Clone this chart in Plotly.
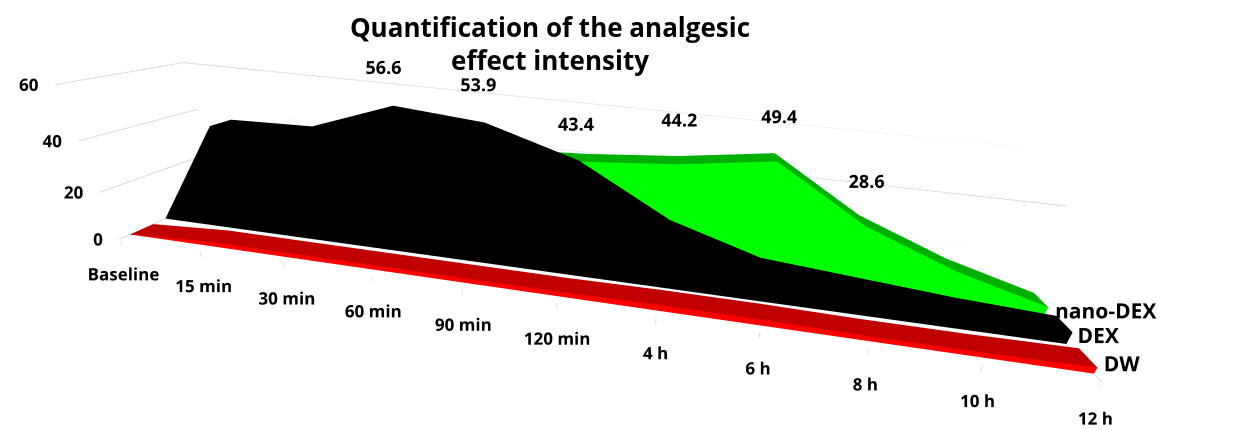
import plotly.graph_objects as go

categories = ["Baseline", "15 min", "30 min", "60 min", "90 min", "120 min",
              "4 h", "6 h", "8 h", "10 h", "12 h"]
series_names = ["DW", "DEX", "nano-DEX"]
dw = [0, 2, 2, 2, 2, 2, 2.5, 2.5, 2, 2, 2.5]
dex = [0, 44, 45, 56.6, 53.9, 43.4, 24, 13, 10, 7, 5]
nano_dex = [0, 18, 28, 35, 39, 41, 44.2, 49.4, 28.6, 15, 5]
label_dex = ["", "", "", "56.6", "53.9", "43.4", "", "", "", "", ""]
label_nano = ["", "", "", "", "", "", "44.2", "49.4", "28.6", "", ""]
value_ticks = [0, 20, 40, 60]

front_colors = ["#ff0000", "#000000", "#00ff00"]
top_colors = ["#c00000", "#000000", "#00b000"]
values = [dw, dex, nano_dex]
labels = [None, label_dex, label_nano]
half = 0.32
y_front, y_back = -0.6, 2.6
z_lo, z_hi = -6, 70
x_max = len(categories) - 1
FONT = "Open Sans"
W, H = 1260, 430

fig = go.Figure()


def ribbon(vals, row, fcol, tcol, name):
    xs, ys, zs = [], [], []
    y0, y1 = row - half, row + half
    for i, v in enumerate(vals):
        xs += [i, i, i, i]
        ys += [y0, y0, y1, y1]
        zs += [0, v, 0, v]
    I, J, K, C = [], [], [], []
    n = len(vals)
    for i in range(n - 1):
        a, b, c, d = 4 * i, 4 * i + 1, 4 * i + 2, 4 * i + 3
        a2, b2, c2, d2 = a + 4, b + 4, c + 4, d + 4
        I += [a, a]; J += [a2, b2]; K += [b2, b]; C += [fcol, fcol]   # front
        I += [c, c]; J += [c2, d2]; K += [d2, d]; C += [fcol, fcol]   # back
        I += [b, b]; J += [b2, d2]; K += [d2, d]; C += [tcol, tcol]   # top
    for i in (0, n - 1):
        a, b, c, d = 4 * i, 4 * i + 1, 4 * i + 2, 4 * i + 3
        I += [a, a]; J += [b, d]; K += [d, c]; C += [tcol, tcol]
    fig.add_trace(go.Mesh3d(
        x=xs, y=ys, z=zs, i=I, j=J, k=K, facecolor=C, flatshading=True,
        lighting=dict(ambient=1, diffuse=0, specular=0, roughness=1, fresnel=0),
        hoverinfo="skip", showscale=False, name=name))


# gridlines on the left wall and back wall
gx, gy, gz = [], [], []
for v in value_ticks:
    gx += [0, 0, x_max, None]; gy += [y_front, y_back, y_back, None]; gz += [v, v, v, None]
fig.add_trace(go.Scatter3d(x=gx, y=gy, z=gz, mode="lines",
                           line=dict(color="#d9d9d9", width=2),
                           hoverinfo="skip", showlegend=False))

# floor front / right edges with category tick marks
ex_, ey_, ez_ = [0, x_max, x_max], [y_front, y_front, y_back], [0, 0, 0]
for i in range(len(categories)):
    ex_ += [None, i, i]; ey_ += [None, y_front, y_front]; ez_ += [None, 0, -2.5]
fig.add_trace(go.Scatter3d(x=ex_, y=ey_, z=ez_, mode="lines",
                           line=dict(color="#d9d9d9", width=2),
                           hoverinfo="skip", showlegend=False))

for r, (vals, fc, tc, nm) in enumerate(zip(values, front_colors, top_colors, series_names)):
    ribbon(vals, r, fc, tc, nm)

# data labels
for r, lab in enumerate(labels):
    if lab is None:
        continue
    xs = [i for i, t in enumerate(lab) if t]
    zs = [values[r][i] + 6 for i in xs]
    fig.add_trace(go.Scatter3d(
        x=xs, y=[r] * len(xs), z=zs, mode="text",
        text=[lab[i] for i in xs],
        textfont=dict(family=FONT, size=18, color="black", weight="bold"),
        hoverinfo="skip", showlegend=False))

# category axis labels
fig.add_trace(go.Scatter3d(
    x=list(range(len(categories))), y=[y_front] * len(categories),
    z=[-5] * len(categories), mode="text", text=categories,
    textposition="bottom center",
    textfont=dict(family=FONT, size=17, color="black", weight="bold"),
    hoverinfo="skip", showlegend=False))

# value axis labels
fig.add_trace(go.Scatter3d(
    x=[0] * len(value_ticks), y=[y_front] * len(value_ticks), z=value_ticks,
    mode="text", text=[str(v) for v in value_ticks], textposition="middle left",
    textfont=dict(family=FONT, size=17, color="black", weight="bold"),
    hoverinfo="skip", showlegend=False))

# series axis labels
fig.add_trace(go.Scatter3d(
    x=[x_max] * 3, y=[0, 1, 2], z=[0, 0, 0], mode="text",
    text=series_names, textposition="middle right",
    textfont=dict(family=FONT, size=21, color="black", weight="bold"),
    hoverinfo="skip", showlegend=False))

hidden = dict(title="", showticklabels=False, showgrid=False, showline=False,
              showbackground=False, zeroline=False, showspikes=False, ticks="")
fig.update_layout(
    width=W, height=H,
    margin=dict(l=0, r=0, t=0, b=0),
    paper_bgcolor="white",
    showlegend=False,
    title=dict(text="<b>Quantification of the analgesic<br>effect intensity</b>",
               x=550 / W, xanchor="center", y=0.915, yanchor="top",
               font=dict(family=FONT, size=26, color="black")),
    scene=dict(
        domain=dict(x=[0, 1], y=[0, 1]),
        aspectmode="manual",
        aspectratio=dict(x=3.2, y=0.4294, z=0.6891),
        xaxis=dict(hidden, range=[0, x_max]),
        yaxis=dict(hidden, range=[y_front, y_back]),
        zaxis=dict(hidden, range=[z_lo, z_hi]),
        camera=dict(eye=dict(x=0.3845, y=-1.5421, z=0.6973),
                    center=dict(x=0.1415, y=0.3679, z=-0.2303),
                    up=dict(x=-0.058, y=-0.0271, z=1),
                    projection=dict(type="perspective")),
    ),
)

fig.write_html("out.html")
